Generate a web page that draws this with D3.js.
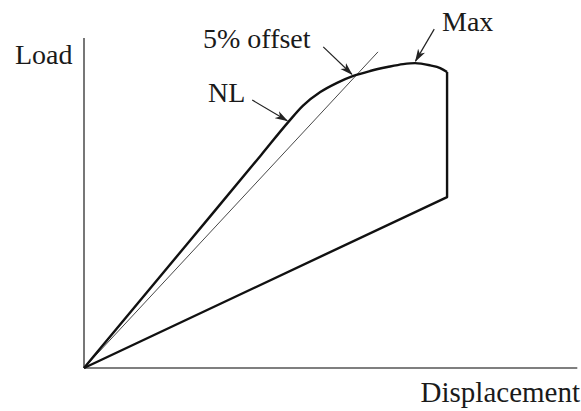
<!DOCTYPE html>
<html>
<head>
    <script src="https://d3js.org/d3.v7.min.js"></script>
    <style>
        body { margin: 0; background: white; }
    </style>
</head>
<body>
<svg id="plt"></svg>
<script>
// load-displacement schematic, arbitrary units (0-10 on both axes)
const loadCurve = [[0, 0], [2.07, 3.72], [3.6, 6.47], [4.14, 7.45], [4.44, 7.95], [4.79, 8.36],
                   [5.13, 8.64], [5.46, 8.85], [5.80, 9.00], [6.15, 9.12], [6.47, 9.21],
                   [6.71, 9.24], [7.02, 9.17], [7.22, 9.09], [7.36, 8.97]];
const dropPart = [[7.36, 8.97], [7.36, 5.18], [0, 0]];   // drop, then unloading back to origin
const offsetLine = [[0, 0], [5.96, 9.58]];               // 5% offset line

const annLabels = ['NL', '5% offset', 'Max'];
const annFrom = [[3.41, 8.12], [4.85, 9.73], [7.10, 10.27]];
const annTo = [[4.12, 7.49], [5.43, 8.90], [6.72, 9.30]];

const axisLabels = ['Load', 'Displacement'];

let svg = d3.select('#plt')
            .attr('width', 581)
            .attr('height', 411);

let x = d3.scaleLinear().domain([0, 10]).range([84, 577.3]);
let y = d3.scaleLinear().domain([0, 10]).range([368, 38]);

let line = d3.line().x(d => x(d[0])).y(d => y(d[1]));
let smooth = d3.line().x(d => x(d[0])).y(d => y(d[1])).curve(d3.curveMonotoneX);

// arrow head
svg.append('defs').append('marker')
   .attr('id', 'head')
   .attr('markerUnits', 'userSpaceOnUse')
   .attr('markerWidth', 13).attr('markerHeight', 9)
   .attr('refX', 12).attr('refY', 4.5)
   .attr('orient', 'auto')
   .append('path')
   .attr('d', 'M0,0.5 L13,4.5 L0,8.5 L3.5,4.5 Z')
   .attr('fill', '#222');

// axes (plain lines, no ticks)
svg.append('line')
   .attr('x1', x(0)).attr('y1', y(0))
   .attr('x2', x(10)).attr('y2', y(0))
   .attr('stroke', '#555').attr('stroke-width', 1.6);
svg.append('line')
   .attr('x1', x(0)).attr('y1', y(0))
   .attr('x2', x(0)).attr('y2', y(10))
   .attr('stroke', '#555').attr('stroke-width', 1.6);

// offset line (thin)
svg.append('path')
   .attr('d', line(offsetLine))
   .attr('fill', 'none').attr('stroke', '#333').attr('stroke-width', 0.9);

// curve
svg.append('path')
   .attr('d', smooth(loadCurve))
   .attr('fill', 'none').attr('stroke', '#111').attr('stroke-width', 2.4);
svg.append('path')
   .attr('d', line(dropPart))
   .attr('fill', 'none').attr('stroke', '#111').attr('stroke-width', 2.4)
   .attr('stroke-linejoin', 'round');

// annotation arrows
annLabels.forEach((lab, i) => {
    svg.append('line')
       .attr('x1', x(annFrom[i][0])).attr('y1', y(annFrom[i][1]))
       .attr('x2', x(annTo[i][0])).attr('y2', y(annTo[i][1]))
       .attr('stroke', '#222').attr('stroke-width', 1.2)
       .attr('marker-end', 'url(#head)');
});

// label text
const labelPos = [[208, 102], [203, 48], [442, 31]];
annLabels.forEach((lab, i) => {
    svg.append('text')
       .attr('x', labelPos[i][0]).attr('y', labelPos[i][1])
       .attr('font-family', 'Liberation Serif')
       .attr('font-size', 28)
       .attr('fill', '#1a1a1a')
       .text(lab);
});

svg.append('text')
   .attr('x', 15).attr('y', 64)
   .attr('font-family', 'Liberation Serif')
   .attr('font-size', 28)
   .attr('fill', '#1a1a1a')
   .text(axisLabels[0]);
svg.append('text')
   .attr('x', 580).attr('y', 402)
   .attr('text-anchor', 'end')
   .attr('font-family', 'Liberation Serif')
   .attr('font-size', 29)
   .attr('fill', '#1a1a1a')
   .text(axisLabels[1]);
</script>
</body>
</html>
